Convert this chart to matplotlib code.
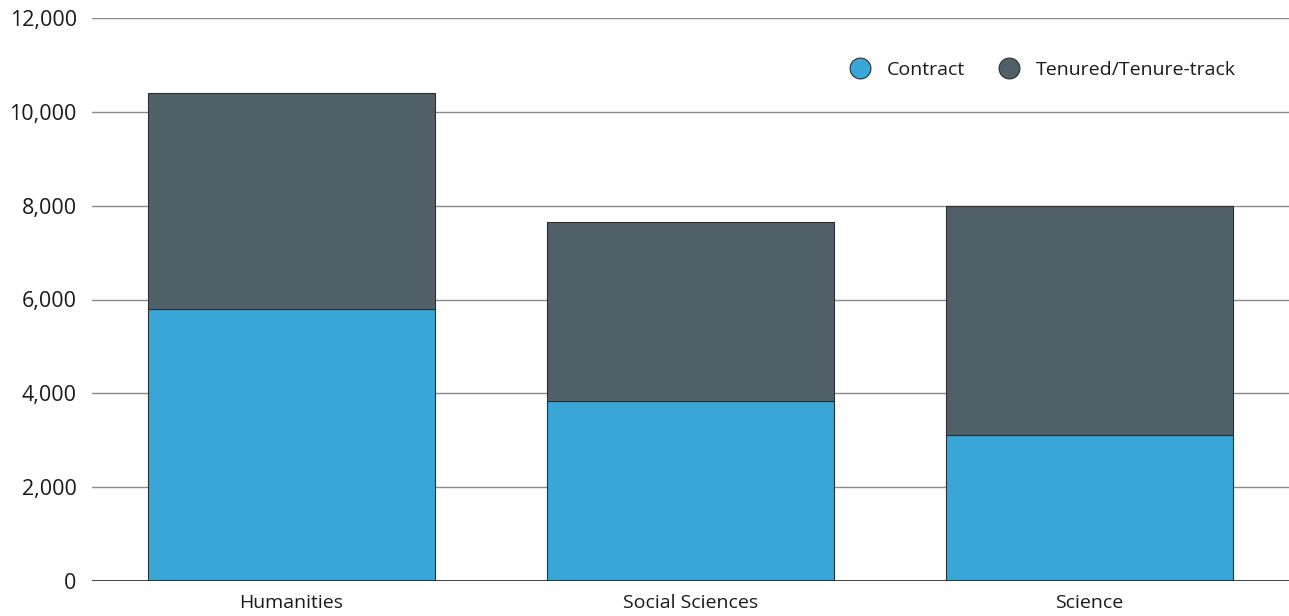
import numpy as np
import matplotlib.pyplot as plt
from matplotlib.ticker import FuncFormatter
from matplotlib.lines import Line2D

plt.rcParams['font.family'] = ['Open Sans', 'DejaVu Sans']

categories = ['Humanities', 'Social Sciences', 'Science']
contract = [5800, 3840, 3110]
tenured = [4600, 3820, 4890]

c_contract = '#38a6d6'
c_tenured = '#515f69'

fig = plt.figure(figsize=(12.89, 6.16), dpi=100)
ax = fig.add_axes([92 / 1289, 1 - 581 / 616, 1 - 92 / 1289, (581 - 18) / 616])

x = np.arange(len(categories))
ax.bar(x, contract, width=0.72, color=c_contract, edgecolor='#2b2f33', linewidth=0.8, zorder=3)
ax.bar(x, tenured, bottom=contract, width=0.72, color=c_tenured, edgecolor='#2b2f33', linewidth=0.8, zorder=3)

ax.set_xlim(-0.5, 2.5)
ax.set_ylim(0, 12000)
ax.set_yticks(np.arange(0, 12001, 2000))
ax.yaxis.set_major_formatter(FuncFormatter(lambda v, p: f'{int(v):,}'))
ax.grid(axis='y', color='#8a8a8a', linewidth=1, zorder=0)
ax.axhline(0, color='#222222', linewidth=1.2, zorder=4)

for s in ax.spines.values():
    s.set_visible(False)

ax.tick_params(axis='y', length=0, pad=11, labelsize=15.5, labelcolor='#1a1a1a')
ax.tick_params(axis='x', length=0, pad=9, labelsize=14, labelcolor='#1a1a1a')
ax.set_xticks(x)
ax.set_xticklabels(categories)

handles = [
    Line2D([], [], marker='o', linestyle='none', markersize=15, markerfacecolor=c_contract,
           markeredgecolor='#2b2f33', markeredgewidth=0.8, label='Contract'),
    Line2D([], [], marker='o', linestyle='none', markersize=15, markerfacecolor=c_tenured,
           markeredgecolor='#2b2f33', markeredgewidth=0.8, label='Tenured/Tenure-track'),
]
ax.legend(handles=handles, loc='upper right', bbox_to_anchor=(0.97, 0.955), ncol=2, frameon=False,
          fontsize=14, handletextpad=0.35, columnspacing=1.3, labelcolor='#1a1a1a')

fig.savefig('out.png', dpi=100)
